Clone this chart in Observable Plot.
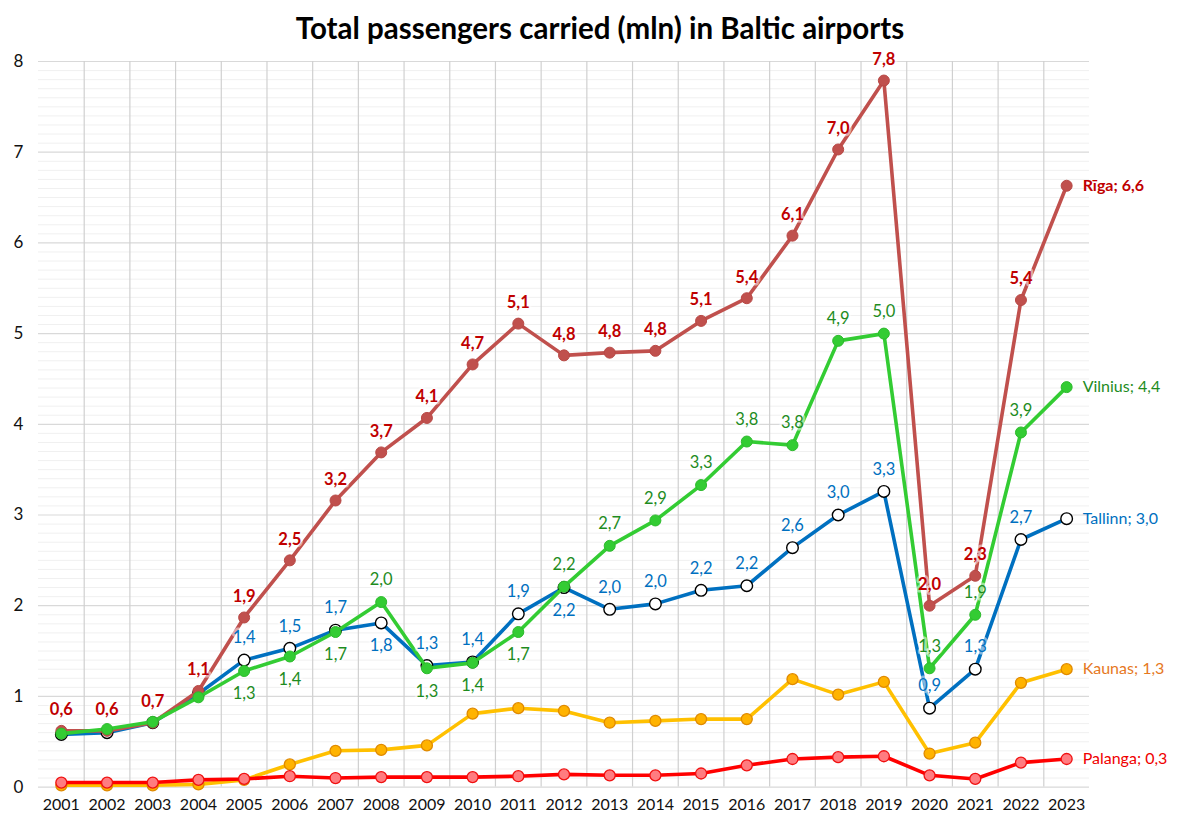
<!DOCTYPE html>
<html>
<head>
<meta charset="utf-8">
<script src="https://cdn.jsdelivr.net/npm/d3@7"></script>
<script src="https://cdn.jsdelivr.net/npm/@observablehq/plot@0.6"></script>
<style>
  html, body { margin: 0; padding: 0; background: #fff; }
  body { width: 1200px; font-family: Lato, "Open Sans", sans-serif; }
  #title { height: 50px; line-height: 56px; text-align: center; font-size: 29.5px; font-weight: 700; color: #000; }
</style>
</head>
<body>
<div id="title">Total passengers carried (mln) in Baltic airports</div>
<div id="chart"></div>
<script>
const years   = [2001,2002,2003,2004,2005,2006,2007,2008,2009,2010,2011,2012,2013,2014,2015,2016,2017,2018,2019,2020,2021,2022,2023];
const riga    = [0.62,0.62,0.71,1.06,1.87,2.50,3.16,3.69,4.07,4.66,5.11,4.76,4.79,4.81,5.14,5.39,6.08,7.03,7.79,2.00,2.33,5.37,6.63];
const vilnius = [0.59,0.64,0.72,0.99,1.28,1.44,1.71,2.04,1.31,1.37,1.71,2.21,2.66,2.94,3.33,3.81,3.77,4.92,5.00,1.31,1.90,3.91,4.41];
const tallinn = [0.58,0.60,0.71,1.03,1.40,1.53,1.73,1.81,1.34,1.38,1.91,2.20,1.96,2.02,2.17,2.22,2.64,3.00,3.26,0.87,1.30,2.73,2.96];
const kaunas  = [0.02,0.02,0.02,0.03,0.08,0.25,0.40,0.41,0.46,0.81,0.87,0.84,0.71,0.73,0.75,0.75,1.19,1.02,1.16,0.37,0.49,1.15,1.30];
const palanga = [0.05,0.05,0.05,0.08,0.09,0.12,0.10,0.11,0.11,0.11,0.12,0.14,0.13,0.13,0.15,0.24,0.31,0.33,0.34,0.13,0.09,0.27,0.31];
const seriesNames = ["Rīga","Vilnius","Tallinn","Kaunas","Palanga"];
const yTicks = [0,1,2,3,4,5,6,7,8];

const fmt = v => d3.format(".1f")(v).replace(".", ",");
const rows = (arr) => years.map((y, i) => ({year: y, value: arr[i]}));

const R = rows(riga), V = rows(vilnius), T = rows(tallinn), K = rows(kaunas), P = rows(palanga);

// label rule: when Vilnius and Tallinn are close, the lower one is labelled below its point
const close = (i) => Math.abs(vilnius[i] - tallinn[i]) < 0.3;
const last = years.length - 1;
const vLabels = V.map((d, i) => ({...d, below: close(i) && vilnius[i] < tallinn[i]})).filter((d, i) => d.year >= 2005 && i < last);
const tLabels = T.map((d, i) => ({...d, below: close(i) && tallinn[i] <= vilnius[i]})).filter((d, i) => d.year >= 2005 && i < last);
const rLabels = R.filter((d, i) => i < last);

const ends = [
  {name: seriesNames[0], year: years[last], value: riga[last], color: "#C00000", bold: true},
  {name: seriesNames[1], year: years[last], value: vilnius[last], color: "#1E8C1E", bold: false},
  {name: seriesNames[2], year: years[last], value: tallinn[last], color: "#0070C0", bold: false},
  {name: seriesNames[3], year: years[last], value: kaunas[last], color: "#E6781E", bold: false},
  {name: seriesNames[4], year: years[last], value: palanga[last], color: "#F00000", bold: false}
];

const font = "Lato, 'Open Sans', sans-serif";
const lw = 3.6;
const halo = {stroke: "white", strokeOpacity: 0.5, strokeWidth: 5, paintOrder: "stroke"};

const chart = Plot.plot({
  width: 1200,
  height: 776,
  marginTop: 11,
  marginBottom: 39.4,
  marginLeft: 38,
  marginRight: 111,
  style: {fontFamily: font, background: "#fff"},
  x: {domain: [2000.5, 2023.5], axis: null, label: null},
  y: {domain: [0, 8], axis: null, label: null},
  marks: [
    Plot.ruleY(d3.range(0, 80).map(i => i / 10).filter(v => Math.abs(v - Math.round(v)) > 1e-6), {stroke: "#F0F0F0", strokeWidth: 1}),
    Plot.ruleY(yTicks, {stroke: "#D9D9D9", strokeWidth: 1.2}),
    Plot.ruleX(years.slice(0, -1).map(y => y + 0.5), {y1: 0, y2: 8, stroke: "#D0D0D0", strokeWidth: 1.2}),
    Plot.axisY(yTicks, {tickSize: 0, tickPadding: 15, fontSize: 17, fill: "#111", textAnchor: "middle", dx: -5, label: null, tickFormat: d => String(d)}),
    Plot.axisX(years, {tickSize: 0, tickPadding: 12, fontSize: 16, fill: "#111", label: null, tickFormat: d => String(d)}),

    Plot.line(K, {x: "year", y: "value", stroke: "#FFC000", strokeWidth: lw}),
    Plot.dot(K, {x: "year", y: "value", r: 5.5, fill: "#FFB300", stroke: "#E08A00", strokeWidth: 1.3}),
    Plot.line(P, {x: "year", y: "value", stroke: "#FF0000", strokeWidth: lw}),
    Plot.dot(P, {x: "year", y: "value", r: 5.5, fill: "#FF7C80", stroke: "#F01010", strokeWidth: 1.3}),
    Plot.line(T, {x: "year", y: "value", stroke: "#0070C0", strokeWidth: lw}),
    Plot.dot(T, {x: "year", y: "value", r: 5.8, fill: "#fff", stroke: "#000", strokeWidth: 1.4}),
    Plot.line(R, {x: "year", y: "value", stroke: "#C0504D", strokeWidth: lw}),
    Plot.dot(R, {x: "year", y: "value", r: 5.5, fill: "#C0504D", stroke: "#B84845", strokeWidth: 1}),
    Plot.line(V, {x: "year", y: "value", stroke: "#33CC33", strokeWidth: lw}),
    Plot.dot(V, {x: "year", y: "value", r: 5.5, fill: "#33CC33", stroke: "#2DBA2D", strokeWidth: 1}),

    Plot.text(rLabels, {x: "year", y: "value", text: d => fmt(d.value), dy: -21, fill: "#C00000", fontWeight: "bold", fontSize: 16.5, ...halo}),
    Plot.text(vLabels, {x: "year", y: "value", text: d => fmt(d.value), fill: "#1E8C1E", fontSize: 16.5,
      filter: d => !d.below, dy: -22, ...halo}),
    Plot.text(vLabels, {x: "year", y: "value", text: d => fmt(d.value), fill: "#1E8C1E", fontSize: 16.5,
      filter: d => d.below, dy: 23, ...halo}),
    Plot.text(tLabels, {x: "year", y: "value", text: d => fmt(d.value), fill: "#0070C0", fontSize: 16.5,
      filter: d => !d.below, dy: -22, ...halo}),
    Plot.text(tLabels, {x: "year", y: "value", text: d => fmt(d.value), fill: "#0070C0", fontSize: 16.5,
      filter: d => d.below, dy: 23, ...halo}),
    Plot.text(ends, {x: "year", y: "value", text: d => `${d.name}; ${fmt(d.value)}`, fill: d => d.color,
      filter: d => d.bold, fontWeight: "bold", fontSize: 16, textAnchor: "start", dx: 16}),
    Plot.text(ends, {x: "year", y: "value", text: d => `${d.name}; ${fmt(d.value)}`, fill: d => d.color,
      filter: d => !d.bold, fontSize: 16, textAnchor: "start", dx: 16})
  ]
});
document.getElementById("chart").appendChild(chart);
</script>
</body>
</html>
